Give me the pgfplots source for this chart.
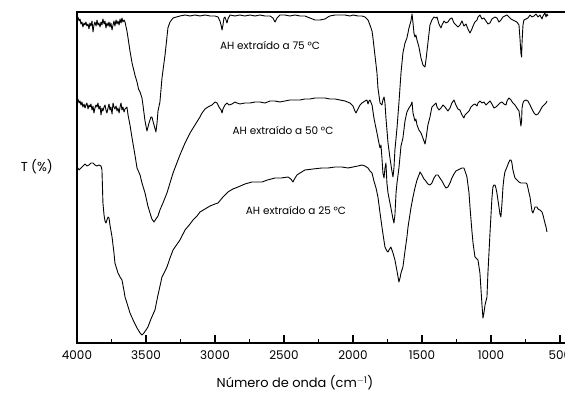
\documentclass[border=0pt]{standalone}
\usepackage{pgfplots}
\pgfplotsset{compat=1.18}
\usepackage{fontspec}
\setmainfont{Poppins}
\usetikzlibrary{calc}

\begin{document}
\begin{tikzpicture}
\begin{axis}[
  scale only axis, width=490bp, height=331bp,
  xmin=449, xmax=4000, ymin=0, ymax=331, x dir=reverse,
  clip=false,
  xtick={500,1000,...,4000}, minor x tick num=1, xtick pos=left,
  ytick=\empty,
  tick align=inside,
  major tick length=7.5bp, minor tick length=4.5bp,
  xtick style={black, line width=1.5pt},
  axis line style={line width=1.2pt},
  /pgf/number format/set thousands separator={},
  /pgf/number format/assume math mode=true,
  xticklabel style={font=\fontsize{12}{12}\selectfont, yshift=-4bp},
  xlabel={Número de onda (cm$^{\mathrm{-1}}$)},
  xlabel style={font=\fontsize{13}{13}\selectfont, at={(axis description cs:0.445,-0.121)}, anchor=center},
]
\coordinate (O) at (rel axis cs:0,0);
% 75 C
\addplot[black, line width=0.9pt, line join=round] coordinates {(4000,326)(3993,326)(3985,322)(3978,324)(3971,319)(3964,321)(3957,316)(3949,320)(3942,318)(3935,321)(3928,317)(3920,319)(3913,314)(3906,320)(3899,317)(3891,322)(3884,311)(3877,318)(3870,321)(3862,317)(3855,323)(3848,318)(3841,320)(3833,316)(3826,321)(3819,318)(3812,324)(3804,319)(3797,322)(3790,315)(3783,320)(3775,317)(3768,321)(3761,316)(3754,320)(3746,313)(3739,318)(3732,322)(3725,317)(3717,323)(3710,319)(3703,322)(3695,318)(3688,324)(3681,320)(3674,325)(3667,321)(3659,323)
(3652,321)(3638,312)(3630,305)(3616,292)(3601,280)(3580,268)(3565,261)(3554,254)(3543,251)(3529,245)(3522,238)(3507,222)(3493,212)(3478,220)(3464,226)(3457,226)(3442,218)(3428,211)(3420,220)(3413,232)(3399,241)(3384,265)(3362,288)(3341,315)(3326,321)(3304,325)(3254,327)(3217,328)(3181,327)(3145,328)(3109,327)(3072,328)(3036,327)(3000,327)(2978,326)(2964,322)(2956,318)(2949,313)(2942,318)(2935,325)(2928,326)(2920,323)(2913,320)(2906,324)(2891,328)(2855,327)(2819,328)(2783,327)(2746,328)(2710,327)(2674,328)(2638,327)(2601,327)(2580,325)(2565,321)(2550,325)(2529,328)(2493,328)(2457,327)(2420,328)(2384,327)(2348,327)(2312,325)(2275,323)(2239,323)(2203,324)(2181,326)(2167,327)(2130,328)(2094,328)(2058,328)(2022,327)(2000,328)(1964,327)(1935,327)(1913,326)(1891,323)(1877,318)(1862,312)(1855,305)(1841,288)(1826,270)(1819,255)(1804,240)(1790,238)(1783,243)(1775,246)(1768,240)(1761,225)(1746,200)(1732,185)(1718,172)(1710,166)(1703,175)(1696,193)(1681,215)(1667,240)(1652,270)(1638,290)(1623,300)(1609,305)(1594,315)(1580,322)(1572,329)(1565,320)(1558,310)(1551,306)(1544,308)(1536,303)(1522,296)(1507,285)(1493,278)(1478,276)(1471,283)(1457,300)(1442,318)(1428,323)(1413,326)(1398,325)(1391,326)(1377,319)(1362,315)(1355,318)(1340,322)(1326,320)(1312,321)(1297,324)(1283,325)(1268,320)(1254,318)(1239,316)(1225,318)(1210,322)(1196,317)(1181,319)(1167,314)(1152,310)(1138,314)(1130,317)(1116,321)(1101,323)(1094,326)(1080,328)(1065,324)(1051,325)(1036,322)(1022,319)(1007,320)(993,324)(971,326)(957,325)(942,321)(928,323)(913,326)(899,327)(884,328)(870,326)(855,324)(841,323)(826,322)(812,321)(797,318)(790,305)(783,290)(778,286)(775,300)(768,318)(761,323)(746,324)(732,325)(717,328)(703,326)(688,327)(674,329)(659,326)(645,328)(630,324)(623,327)(609,330)(601,326)(594,329)(587,327)};
% 50 C
\addplot[black, line width=0.9pt, line join=round] coordinates {(4000,243)(3993,244)(3985,240)(3978,242)(3971,238)(3964,241)(3957,236)(3949,239)(3942,235)(3935,238)(3928,240)(3920,234)(3913,238)(3906,236)(3899,239)(3891,233)(3884,237)(3877,230)(3870,235)(3862,238)(3855,236)(3848,240)(3841,234)(3833,237)(3826,228)(3819,235)(3812,232)(3804,236)(3797,238)(3790,233)(3783,230)(3775,235)(3768,239)(3761,233)(3754,236)(3746,229)(3739,240)(3732,236)(3725,234)(3717,237)(3710,232)(3703,235)(3695,230)(3688,236)(3681,240)(3674,233)(3667,236)(3659,231)(3652,234)(3638,236)(3630,228)(3616,218)(3601,205)(3580,188)(3565,175)(3543,168)(3529,160)(3507,150)(3486,137)(3471,130)(3457,124)(3442,121)(3428,124)(3413,127)(3399,133)(3377,140)(3348,150)(3326,160)(3304,170)(3254,188)(3217,200)(3181,210)(3145,218)(3109,226)(3094,230)(3072,234)(3051,236)(3022,238)(3000,241)(2985,240)(2971,236)(2956,233)(2949,230)(2942,234)(2928,238)(2913,240)(2898,238)(2877,239)(2855,241)(2841,240)(2819,239)(2783,240)(2746,240)(2710,241)(2674,241)(2638,240)(2601,242)(2565,242)(2529,241)(2493,242)(2457,243)(2420,243)(2384,243)(2348,244)(2312,244)(2275,245)(2239,245)(2203,245)(2167,244)(2130,244)(2094,243)(2058,242)(2022,240)(2000,237)(1986,232)(1978,230)(1964,234)(1949,238)(1935,240)(1913,242)(1899,243)(1891,239)(1884,242)(1877,243)(1862,238)(1848,225)(1841,220)(1826,210)(1812,200)(1804,195)(1797,198)(1790,185)(1783,170)(1775,165)(1768,175)(1761,180)(1754,160)(1746,150)(1732,140)(1718,130)(1710,124)(1703,120)(1696,128)(1688,150)(1681,160)(1667,175)(1652,197)(1638,205)(1623,222)(1609,231)(1594,235)(1580,238)(1572,241)(1565,230)(1558,226)(1551,222)(1544,224)(1536,218)(1522,213)(1507,210)(1493,205)(1478,199)(1471,204)(1457,218)(1442,226)(1428,236)(1413,238)(1398,240)(1391,236)(1377,233)(1362,235)(1348,238)(1333,236)(1312,232)(1297,235)(1283,240)(1268,243)(1254,238)(1239,234)(1225,233)(1210,228)(1196,225)(1188,228)(1174,230)(1159,232)(1145,236)(1130,238)(1116,239)(1101,237)(1094,240)(1080,242)(1065,240)(1051,241)(1036,238)(1022,240)(1007,242)(993,239)(978,235)(964,236)(949,238)(935,240)(920,241)(906,239)(891,238)(884,242)(870,245)(855,243)(841,240)(826,238)(812,235)(797,232)(790,225)(783,217)(778,222)(775,235)(768,240)(761,242)(746,243)(732,242)(717,238)(703,234)(688,230)(674,228)(659,229)(645,232)(630,236)(616,238)(601,240)(594,242)};
% 25 C
\addplot[black, line width=0.9pt, line join=round] coordinates {(4000,175)(3993,175)(3985,173)(3971,175)(3957,177)(3942,179)(3928,177)(3913,178)(3899,180)(3884,180)(3870,178)(3855,177)(3841,178)(3826,177)(3819,173)(3812,140)(3804,128)(3797,122)(3790,120)(3783,123)(3775,126)(3768,125)(3761,118)(3746,106)(3732,90)(3725,80)(3703,70)(3688,66)(3674,63)(3659,52)(3652,46)(3638,40)(3616,30)(3590,22)(3565,15)(3543,10)(3529,8)(3515,10)(3500,13)(3486,16)(3464,24)(3435,33)(3413,48)(3384,66)(3362,72)(3348,76)(3326,85)(3304,93)(3254,103)(3217,113)(3181,119)(3159,123)(3130,127)(3109,131)(3072,134)(3036,137)(3000,139)(2978,140)(2942,146)(2906,151)(2870,154)(2833,156)(2783,159)(2732,161)(2695,161)(2659,161)(2620,163)(2565,165)(2520,165)(2471,166)(2450,164)(2435,161)(2420,165)(2406,168)(2384,170)(2348,173)(2290,174)(2225,175)(2180,175)(2130,176)(2080,176)(2036,175)(2000,176)(1964,177)(1935,178)(1913,177)(1891,175)(1877,172)(1862,170)(1848,162)(1833,155)(1819,146)(1804,130)(1790,116)(1775,102)(1768,96)(1754,92)(1746,91)(1739,93)(1725,96)(1710,90)(1696,83)(1681,72)(1667,61)(1659,65)(1652,70)(1638,76)(1623,92)(1609,106)(1601,116)(1580,135)(1565,146)(1551,155)(1536,163)(1522,168)(1514,171)(1500,168)(1486,164)(1478,163)(1457,159)(1442,158)(1428,160)(1413,165)(1398,168)(1384,168)(1370,165)(1355,162)(1340,158)(1326,155)(1312,156)(1297,160)(1283,165)(1268,169)(1254,172)(1239,173)(1225,174)(1210,175)(1196,175)(1188,172)(1174,166)(1159,150)(1152,136)(1138,112)(1130,100)(1116,86)(1101,84)(1094,83)(1080,70)(1072,53)(1065,38)(1058,25)(1051,30)(1043,38)(1036,42)(1029,46)(1022,70)(1007,110)(993,145)(986,156)(978,158)(971,158)(964,155)(957,150)(942,136)(935,129)(928,126)(920,140)(913,156)(906,165)(899,171)(884,176)(870,181)(862,183)(855,183)(848,180)(841,173)(826,165)(812,163)(797,161)(783,160)(775,160)(761,160)(746,160)(739,159)(732,155)(724,150)(717,146)(703,132)(696,130)(688,133)(681,136)(667,136)(659,134)(645,133)(630,131)(623,128)(609,120)(601,116)(594,111)};
\node[font=\fontsize{10.5}{10.5}\selectfont] at (axis cs:2601,298) {AH extraído a 75 °C};
\node[font=\fontsize{10.5}{10.5}\selectfont] at (axis cs:2507,213) {AH extraído a 50 °C};
\node[font=\fontsize{10.5}{10.5}\selectfont] at (axis cs:2413,133) {AH extraído a 25 °C};
\node[font=\fontsize{13}{13}\selectfont] at (axis description cs:-0.082,0.532) {T (\%)};
\end{axis}
\pgfresetboundingbox
\path[use as bounding box] ($(O)+(-77bp,-50bp)$) rectangle ($(O)+(488bp,343bp)$);
\end{tikzpicture}
\end{document}
